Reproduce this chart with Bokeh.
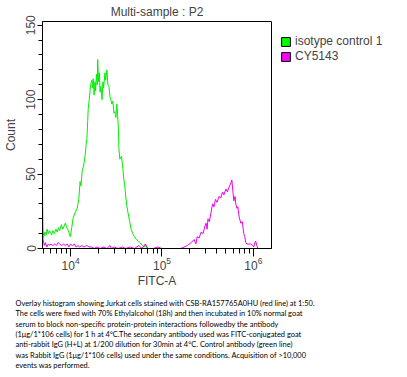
from bokeh.plotting import figure
from bokeh.models import FixedTicker, Legend, LegendItem, Range1d
from bokeh.layouts import column, row
from bokeh.core.properties import value
from bokeh.embed import file_html
from bokeh.resources import INLINE

# ---------------- data ----------------
ctrl_x = [4930, 4935, 5000, 5100, 5250, 5400, 5550, 5700, 5850, 6030, 6200, 6400, 6660, 6900,
          7150, 7360, 7600, 7930, 8200, 8500, 8770, 9100, 9440, 9700, 9930, 10300, 10700,
          11200, 11800, 12300, 12700, 13000, 13400, 13700, 14100, 14400, 14800, 15100,
          15400, 15600, 16000, 16400, 16700, 17100, 17400, 17700, 18100, 18500, 18800,
          19200, 19600, 19800, 20300, 20700, 21000, 21500, 22100, 22600, 23000, 23800,
          24200, 25000, 25600, 26300, 27000, 27600, 28300, 29000, 29800, 30500, 31300,
          32100, 32700, 33400, 33800, 34600, 36100, 37300, 38000, 39200, 40000, 41200,
          42500, 44400, 46000, 47900, 50000, 52500, 55000, 57000, 59000, 61500, 64000,
          66000, 68000]
ctrl_y = [0, 36, 12, 8, 11, 9, 13, 10, 12, 11, 9, 12, 10, 13,
          11, 14, 12, 16, 13, 15, 17, 14, 12, 10, 8, 14, 21,
          24, 27, 33, 45, 42, 52, 54, 58, 62, 70, 74,
          86, 94, 100, 107, 111, 113, 108, 114, 103, 112, 106,
          117, 110, 127, 112, 118, 105, 109, 100, 112, 108, 118,
          113, 120, 110, 109, 102, 100, 97, 99, 91, 92, 88,
          97, 90, 80, 67, 60, 62, 54, 48, 42, 36, 29,
          24, 18, 13, 10, 8, 6, 5, 4, 3, 2, 1,
          3, 0]

cy_x = [4930, 4935, 5000, 5150, 5300, 5500, 5700, 5900, 6100, 6400, 6700, 7000, 7300, 7600,
        8000, 8400, 8800, 9200, 9600, 10000, 10500, 11000, 11500, 12000, 12600, 13200,
        14000, 15000, 16000, 17000, 18000, 19500, 21000, 23000, 25000, 27000, 28000,
        30000, 33000, 37000, 40000, 45000, 50000, 56000, 60000, 66000, 70000, 80000,
        90000, 100000, 120000, 140000, 160000, 175000, 190000, 209000, 225000, 235000,
        243000, 255000, 268000, 282000, 295000, 304000, 312000, 319000, 330000, 344000,
        358000, 371000, 385000, 400000, 421000, 442000, 460000, 476000, 501000, 520000,
        540000, 568000, 582000, 598000, 612000, 630000, 643000, 660000, 676000, 700000,
        729000, 757000, 786000, 806000, 826000, 850000, 880000, 936000, 985000, 1010000,
        1040000, 1060000, 1090000, 1120000]
cy_y = [0, 14, 6, 2, 4, 1, 3, 2, 3, 2, 3, 2, 4, 3,
        2, 3, 2, 3, 1, 3, 2, 3, 1, 2, 1, 2,
        1, 2, 1, 1, 0, 1, 0, 1, 0, 2, 0,
        1, 0, 1, 0, 1, 0, 2, 0, 3, 0, 0,
        1, 0, 0, 0, 0, 1, 2, 4, 6, 3,
        8, 7, 11, 10, 15, 17, 13, 20, 18, 24,
        30, 28, 33, 31, 35, 34, 38, 36, 40, 38,
        41, 44, 46, 38, 32, 35, 30, 27, 28, 21,
        17, 18, 10, 8, 4, 3, 3, 3, 2, 1,
        4, 5, 2, 0]

series_names = ["isotype control 1", "CY5143"]
series_swatch = ["#00FF00", "#FF00FF"]
y_ticks = [0, 50, 100, 150]
x_ticks = [10000, 100000, 1000000]
x_tick_labels = ["10\u2074", "10\u2075", "10\u2076"]

caption = [
    "Overlay histogram showing Jurkat cells stained with CSB-RA157765A0HU (red line) at 1:50.",
    "The cells were fixed with 70% Ethylalcohol (18h) and then incubated in 10% normal goat",
    "serum to block non-specific protein-protein interactions followedby the antibody",
    "(1\u03bcg/1*106 cells) for 1 h at 4\u00b0C.The secondary antibody used was FITC-conjugated goat",
    "anti-rabbit IgG (H+L) at 1/200 dilution for 30min at 4\u00b0C. Control antibody (green line)",
    "was Rabbit IgG (1\u03bcg/1*106 cells) used under the same conditions. Acquisition of >10,000",
    "events was performed.",
]

GREEN = "#00EE00"
MAGENTA = "#EE00EE"
FONT = "Liberation Sans"

W, H_TOP, H_CAP = 407, 290, 87
W_MAIN = 273
p = figure(width=W_MAIN, height=H_TOP, x_axis_type="log", output_backend="svg",
           toolbar_location=None, x_range=Range1d(4930, 1.58e6), y_range=Range1d(0, 152.5),
           min_border_left=40, min_border_right=2, min_border_top=18, min_border_bottom=41)
p.title.text = "Multi-sample : P2"
p.title.align = "center"
p.title.text_font = FONT
p.title.text_font_size = "12px"
p.title.text_font_style = "normal"
p.title.standoff = 5

p.xgrid.visible = False
p.ygrid.visible = False
p.outline_line_color = "black"
p.outline_line_width = 1
p.background_fill_color = "white"
p.border_fill_color = "white"

# x axis
xa = p.xaxis[0]
minor_x = [v * m for v in (1000, 10000, 100000) for m in range(2, 10) if 4930 <= v * m <= 1.58e6]
xa.ticker = FixedTicker(ticks=x_ticks, minor_ticks=minor_x)
xa.major_label_overrides = {str(t): l for t, l in zip(x_ticks, x_tick_labels)}
xa.axis_label = "FITC-A"
xa.axis_label_text_font = FONT
xa.axis_label_text_font_size = "12px"
xa.axis_label_text_font_style = "normal"
xa.major_label_text_font = FONT
xa.major_label_text_font_size = "12px"
xa.major_tick_out = 8
xa.major_tick_in = 0
xa.minor_tick_out = 5
xa.minor_tick_in = 0
xa.major_label_standoff = 0
xa.axis_label_standoff = 1

# y axis
ya = p.yaxis[0]
ya.ticker = FixedTicker(ticks=y_ticks, minor_ticks=list(range(0, 160, 10)))
ya.axis_label = "Count"
ya.axis_label_text_font = FONT
ya.axis_label_text_font_size = "12px"
ya.axis_label_text_font_style = "normal"
ya.major_label_text_font = FONT
ya.major_label_text_font_size = "12px"
ya.major_label_orientation = "vertical"
ya.major_tick_out = 5
ya.major_tick_in = 0
ya.minor_tick_out = 4
ya.minor_tick_in = 0
ya.major_label_standoff = 2
ya.axis_label_standoff = 6

# curves
p.line(x=ctrl_x, y=ctrl_y, line_color=GREEN, line_width=1)
p.line(x=cy_x, y=cy_y, line_color=MAGENTA, line_width=1)

# legend panel (separate blank figure to the right of the plot; frame aligns with the plot's)
leg = figure(width=W - W_MAIN, height=H_TOP, output_backend="svg", toolbar_location=None,
             x_range=Range1d(0, 1), y_range=Range1d(0, 1),
             x_axis_location=None, y_axis_location=None,
             min_border_left=0, min_border_right=0, min_border_top=18, min_border_bottom=41)
leg.xgrid.visible = False
leg.ygrid.visible = False
leg.outline_line_color = None
swatches = [leg.quad(left=[-5], right=[-5], top=[-5], bottom=[-5], fill_color=c, line_color="black")
            for c in series_swatch]
legend = Legend(items=[LegendItem(label=n, renderers=[r]) for n, r in zip(series_names, swatches)],
                location=(7, 185), border_line_color=None, background_fill_alpha=0,
                label_text_font=FONT, label_text_font_size="12px",
                glyph_width=11, glyph_height=11, spacing=1, padding=0, margin=0,
                label_standoff=4, label_height=12)
leg.add_layout(legend, "center")

# caption figure (coordinates in pixels, y downward)
cap = figure(width=W, height=H_CAP, output_backend="svg", toolbar_location=None,
             x_range=Range1d(0, W), y_range=Range1d(H_CAP, 0),
             x_axis_location=None, y_axis_location=None, min_border=0)
cap.xgrid.visible = False
cap.ygrid.visible = False
cap.outline_line_color = None
cap_x = [15] * len(caption)
cap_y = [298.5 - H_TOP + i * 10.3 for i in range(len(caption))]
cap.text(x=cap_x, y=cap_y, text=caption, text_font=value("Lato"), text_font_size="7.45px",
         text_baseline="top", text_align="left", text_color="black")

open("out.html", "w").write(file_html(column(row(p, leg), cap), INLINE))
